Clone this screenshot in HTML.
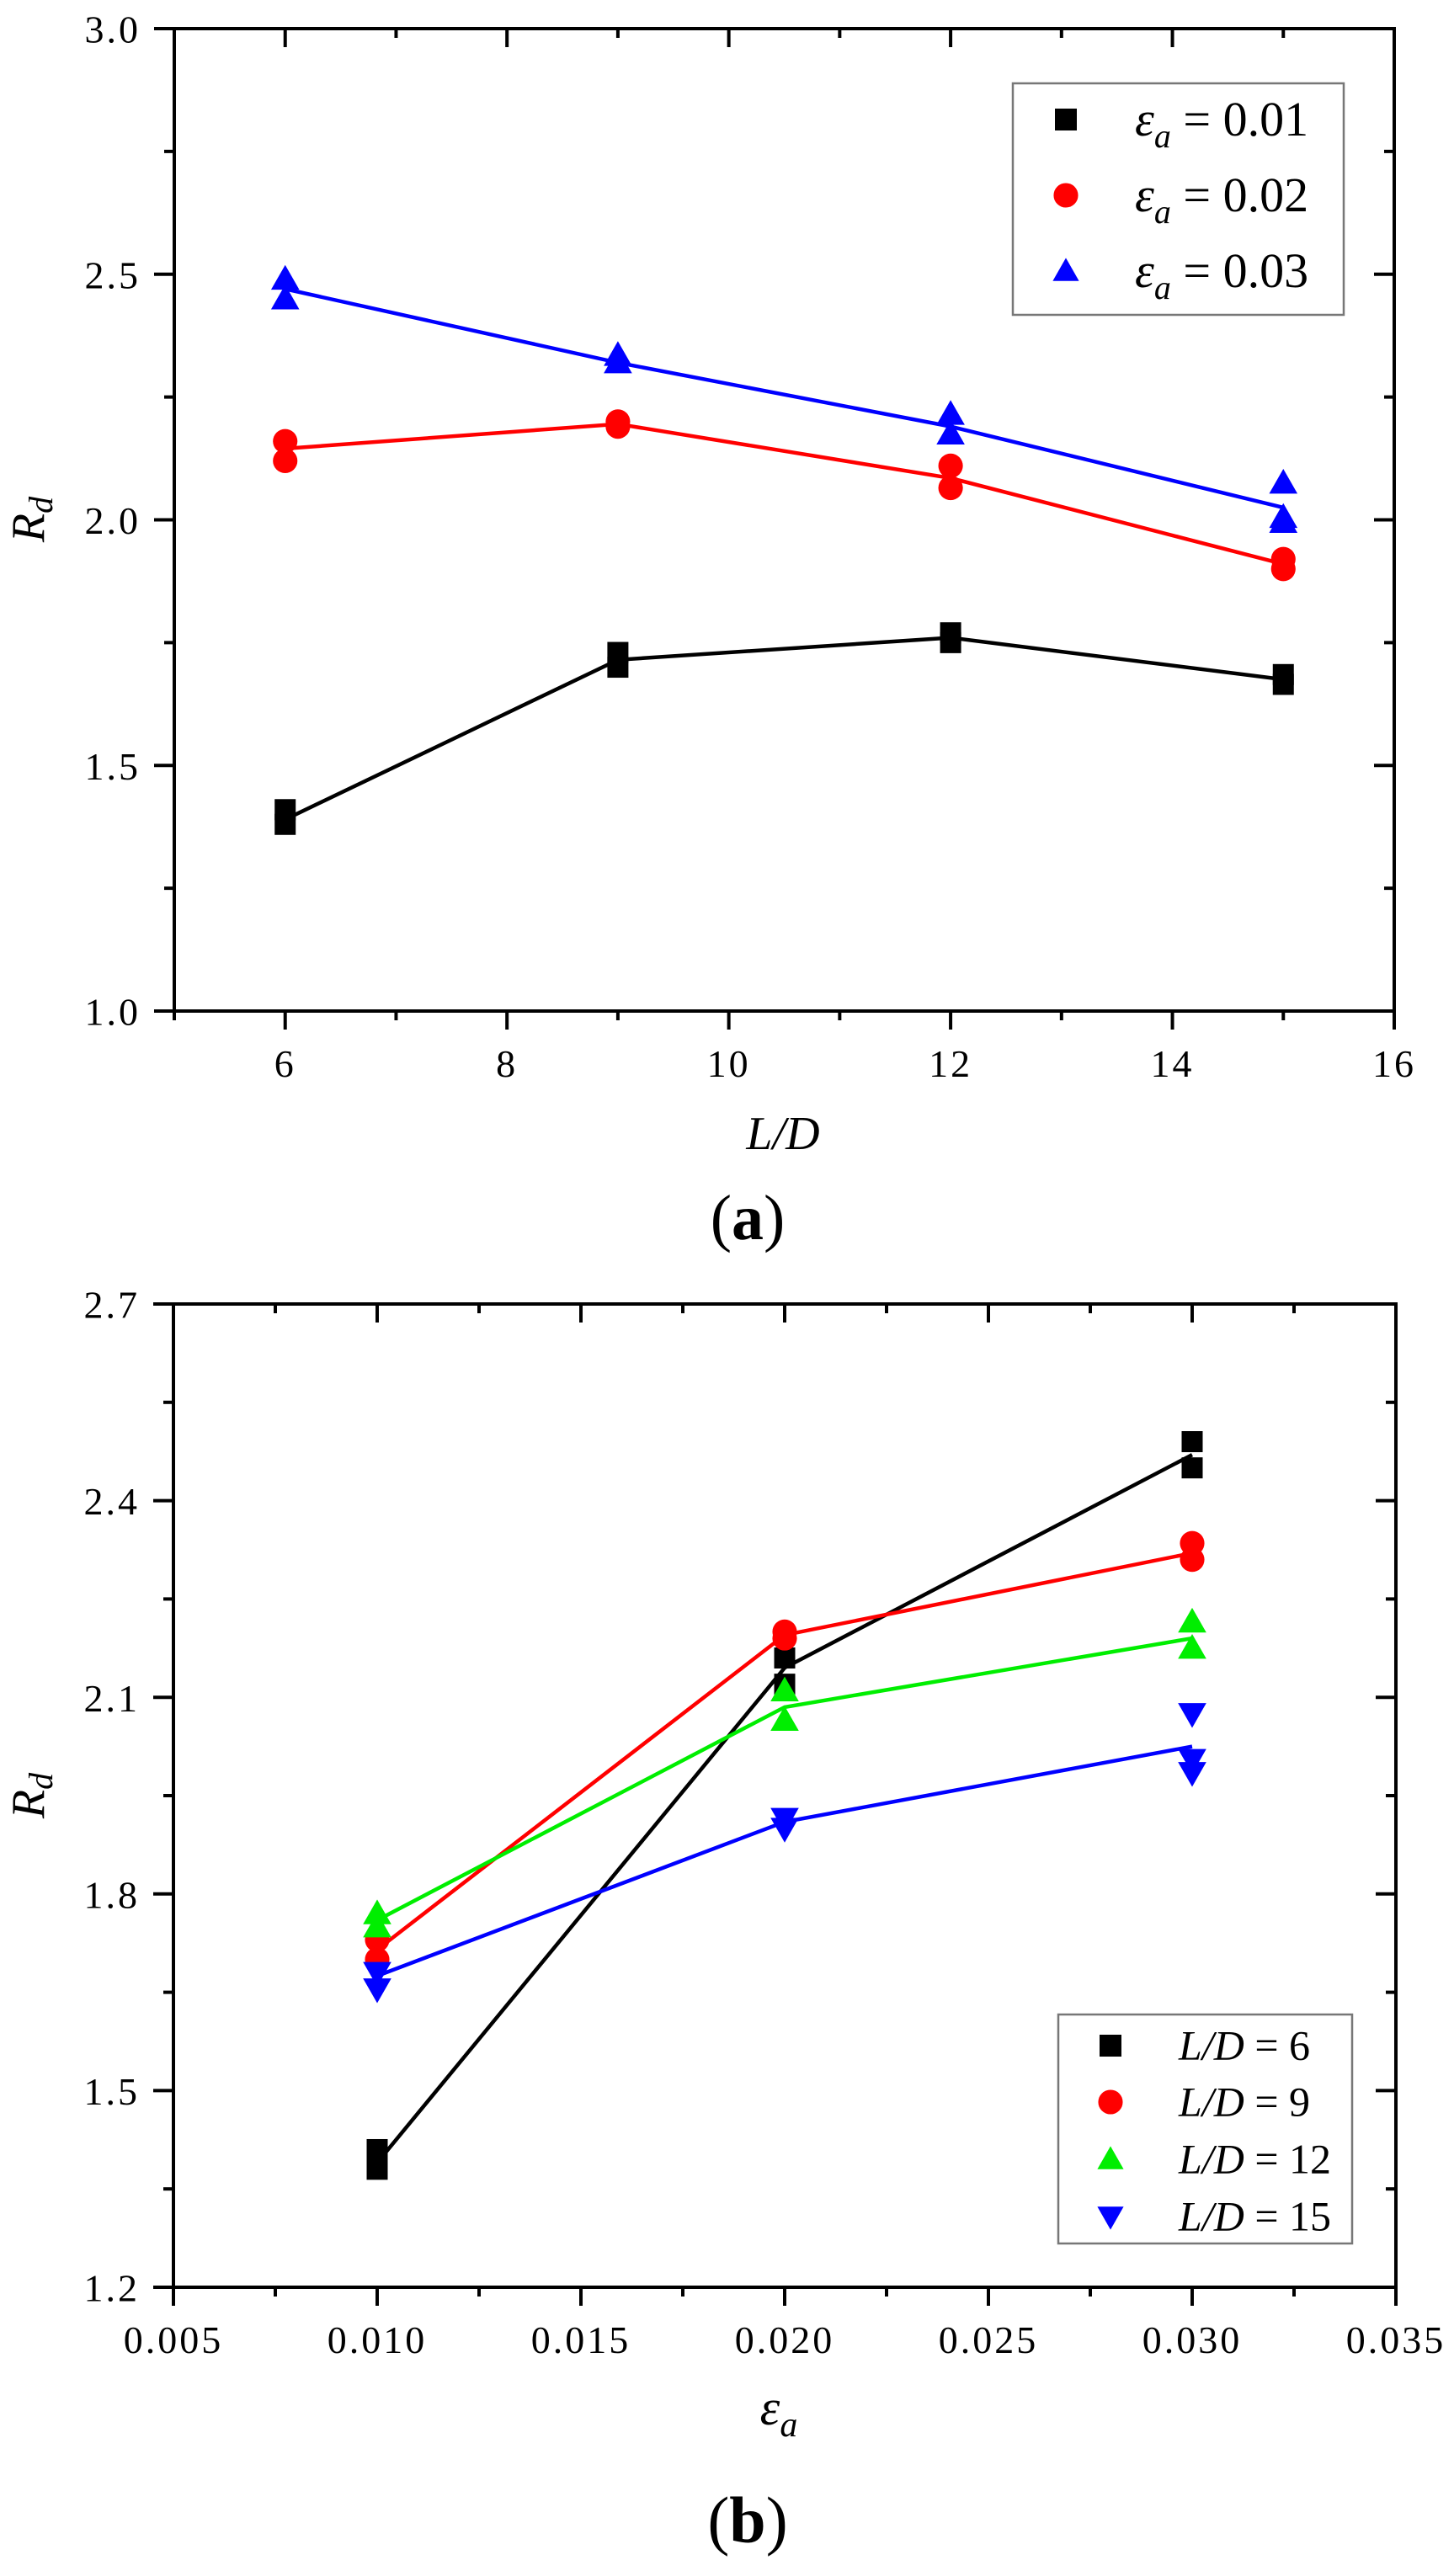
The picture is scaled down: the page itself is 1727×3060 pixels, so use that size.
<!DOCTYPE html>
<html><head><meta charset="utf-8"><style>
html,body{margin:0;padding:0;background:#fff;}
svg{display:block;}
.tick{font-family:"Liberation Serif","Noto Serif CJK SC",serif;fill:#000;letter-spacing:3px;}
.it{font-family:"Liberation Serif",serif;font-style:italic;fill:#000;}
.rm{font-family:"Liberation Serif",serif;fill:#000;}
</style></head><body>
<svg id="fig" width="1727" height="3060" viewBox="0 0 1727 3060" xmlns="http://www.w3.org/2000/svg">
<rect width="1727" height="3060" fill="#fff"/>
<g id="chartA"></g>
<g id="chartB"></g>
<text x="888" y="1472" text-anchor="middle" class="rm" font-size="76">(<tspan font-weight="bold">a</tspan>)</text>
<text x="888" y="3020" text-anchor="middle" class="rm" font-size="78">(<tspan font-weight="bold">b</tspan>)</text>
</svg>
<script>
// ---- Chart A data ----
const aX = [6, 9, 12, 15];
const aLine001 = [1.39, 1.715, 1.76, 1.675];
const aLine002 = [2.145, 2.195, 2.085, 1.91];
const aLine003 = [2.47, 2.32, 2.19, 2.025];
const aPts001 = [[1.38,1.41],[1.70,1.73],[1.75,1.77],[1.665,1.685]];
const aPts002 = [[2.12,2.16],[2.19,2.20],[2.065,2.11],[1.90,1.92]];
const aPts003 = [[2.45,2.49],[2.32,2.335],[2.175,2.215],[1.995,2.005,2.075]];
const aXTicks = [6, 8, 10, 12, 14, 16];
const aYTicks = [1.0, 1.5, 2.0, 2.5, 3.0];
const aYTickLabels = ["1.0","1.5","2.0","2.5","3.0"];
// ---- Chart B data ----
const bX = [0.01, 0.02, 0.03];
const bLine6 = [1.39, 2.145, 2.47];
const bLine9 = [1.715, 2.195, 2.32];
const bLine12 = [1.76, 2.085, 2.19];
const bLine15 = [1.675, 1.91, 2.025];
const bPts6 = [[1.38,1.41],[2.12,2.16],[2.45,2.49]];
const bPts9 = [[1.70,1.73],[2.19,2.20],[2.31,2.335]];
const bPts12 = [[1.75,1.77],[2.065,2.11],[2.175,2.215]];
const bPts15 = [[1.655,1.68],[1.90,1.915],[1.985,2.005,2.075]];
const bXTicks = [0.005,0.010,0.015,0.020,0.025,0.030,0.035];
const bXTickLabels = ["0.005","0.010","0.015","0.020","0.025","0.030","0.035"];
const bYTicks = [1.2,1.5,1.8,2.1,2.4,2.7];
const bYTickLabels = ["1.2","1.5","1.8","2.1","2.4","2.7"];

const NS = "http://www.w3.org/2000/svg";
function mk(parent, tag, attrs){
  const e = document.createElementNS(NS, tag);
  for (const k in attrs) e.setAttribute(k, attrs[k]);
  parent.appendChild(e); return e;
}
function marker(g, type, cx, cy, color, s){
  let e;
  if (type === 'square') e = mk(g,'rect',{x:cx-s/2,y:cy-s/2,width:s,height:s,fill:color});
  else if (type === 'circle') e = mk(g,'circle',{cx:cx,cy:cy,r:s*0.56,fill:color});
  else if (type === 'up') e = mk(g,'polygon',{points:`${cx-s*0.6},${cy+s*0.45} ${cx+s*0.6},${cy+s*0.45} ${cx},${cy-s*0.6}`,fill:color});
  else e = mk(g,'polygon',{points:`${cx-s*0.6},${cy-s*0.45} ${cx+s*0.6},${cy-s*0.45} ${cx},${cy+s*0.6}`,fill:color});
  return e;
}
function drawAxes(g, L, R, T, B, xs, ys, xMaj, xMin, yMaj, yMin, xLab, yLab, fs){
  const ax = mk(g,'g',{});
  
  
  const frame = mk(ax,'rect',{x:L,y:T,width:R-L,height:B-T,fill:'none',stroke:'#000','stroke-width':4});
  
  
  xMaj.forEach((v,i)=>{
    const x = xs(v);
    mk(ax,'line',{x1:x,y1:B,x2:x,y2:B+22,stroke:'#000','stroke-width':4});
    mk(ax,'line',{x1:x,y1:T,x2:x,y2:T+22,stroke:'#000','stroke-width':4});
    const t = mk(ax,'text',{x:x,y:B+78,'text-anchor':'middle','font-size':fs,class:'tick'});
    t.textContent = xLab[i];
    
    
  });
  xMin.forEach(v=>{
    const x = xs(v);
    mk(ax,'line',{x1:x,y1:B,x2:x,y2:B+11,stroke:'#000','stroke-width':4});
    mk(ax,'line',{x1:x,y1:T,x2:x,y2:T+11,stroke:'#000','stroke-width':4});
  });
  yMaj.forEach((v,i)=>{
    const y = ys(v);
    mk(ax,'line',{x1:L-24,y1:y,x2:L,y2:y,stroke:'#000','stroke-width':4});
    mk(ax,'line',{x1:R-24,y1:y,x2:R,y2:y,stroke:'#000','stroke-width':4});
    const t = mk(ax,'text',{x:L-40,y:y+fs*0.36,'text-anchor':'end','font-size':fs,class:'tick'});
    t.textContent = yLab[i];
    
    
  });
  yMin.forEach(v=>{
    const y = ys(v);
    mk(ax,'line',{x1:L-12,y1:y,x2:L,y2:y,stroke:'#000','stroke-width':4});
    mk(ax,'line',{x1:R-12,y1:y,x2:R,y2:y,stroke:'#000','stroke-width':4});
  });
}
function drawSeries(g, name, xv, line, pts, xs, ys, color, type, s){
  const sg = mk(g,'g',{});
  
  
  const p = mk(sg,'polyline',{points:xv.map((x,i)=>xs(x)+','+ys(line[i])).join(' '),fill:'none',stroke:color,'stroke-width':4.5});
  
  
  pts.forEach((arr,i)=>arr.forEach(v=>{
    const m = marker(sg,type,xs(xv[i]),ys(v),color,s);
    
    
  }));
}
function legend(g, x, y, w, h, rows, fs, mx, tx, s){
  const lg = mk(g,'g',{});
  
  
  mk(lg,'rect',{x:x,y:y,width:w,height:h,fill:'#fff',stroke:'#777','stroke-width':2.5});
  rows.forEach(r=>{
    const e = mk(lg,'g',{});
    
    
    marker(e,r.type,mx,r.y,r.color,s);
    const t = mk(e,'text',{x:tx,y:r.y+fs*0.33,'font-size':fs,class:'rm'});
    t.innerHTML = r.html;
  });
}

// ---- Chart A ----
(function(){
  const g = document.getElementById('chartA');
  const L=207,R=1656,T=34,B=1201;
  const xs = v => L + (v-5)/(16-5)*(R-L);
  const ys = v => B - (v-1)/(3-1)*(B-T);
  drawAxes(g,L,R,T,B,xs,ys,aXTicks,[5,7,9,11,13,15],aYTicks,[1.25,1.75,2.25,2.75],aXTicks.map(String),aYTickLabels,46);
  drawSeries(g,'series-ea-0.01',aX,aLine001,aPts001,xs,ys,'#000','square',25);
  drawSeries(g,'series-ea-0.02',aX,aLine002,aPts002,xs,ys,'#ff0000','circle',26);
  drawSeries(g,'series-ea-0.03',aX,aLine003,aPts003,xs,ys,'#0000ff','up',28);
  legend(g,1203,99,393,275,[
    {type:'square',color:'#000',y:142,html:'<tspan font-style="italic">ε</tspan><tspan font-style="italic" font-size="40" dy="14">a</tspan><tspan dy="-14"> = 0.01</tspan>'},
    {type:'circle',color:'#ff0000',y:232,html:'<tspan font-style="italic">ε</tspan><tspan font-style="italic" font-size="40" dy="14">a</tspan><tspan dy="-14"> = 0.02</tspan>'},
    {type:'up',color:'#0000ff',y:322,html:'<tspan font-style="italic">ε</tspan><tspan font-style="italic" font-size="40" dy="14">a</tspan><tspan dy="-14"> = 0.03</tspan>'}
  ],58,1266,1348,26);
  const xl = mk(g,'text',{x:930,y:1365,'text-anchor':'middle','font-size':56,class:'it'});
  xl.textContent='L/D';
  
  
  const yl = mk(g,'text',{transform:'translate(52,617) rotate(-90)','text-anchor':'middle','font-size':56,class:'it'});
  yl.innerHTML='R<tspan font-size="40" dy="10">d</tspan>';
  
  
})();

// ---- Chart B ----
(function(){
  const g = document.getElementById('chartB');
  const L=206,R=1658,T=1549,B=2717;
  const xs = v => L + (v-0.005)/(0.035-0.005)*(R-L);
  const ys = v => B - (v-1.2)/(2.7-1.2)*(B-T);
  drawAxes(g,L,R,T,B,xs,ys,bXTicks,[0.0075,0.0125,0.0175,0.0225,0.0275,0.0325],bYTicks,[1.35,1.65,1.95,2.25,2.55],bXTickLabels,bYTickLabels,46);
  drawSeries(g,'series-ld-6',bX,bLine6,bPts6,xs,ys,'#000','square',25);
  drawSeries(g,'series-ld-9',bX,bLine9,bPts9,xs,ys,'#ff0000','circle',26);
  drawSeries(g,'series-ld-12',bX,bLine12,bPts12,xs,ys,'#00ee00','up',28);
  drawSeries(g,'series-ld-15',bX,bLine15,bPts15,xs,ys,'#0000ff','down',28);
  legend(g,1257,2393,349,272,[
    {type:'square',color:'#000',y:2430,html:'<tspan font-style="italic">L/D</tspan> = 6'},
    {type:'circle',color:'#ff0000',y:2497,html:'<tspan font-style="italic">L/D</tspan> = 9'},
    {type:'up',color:'#00ee00',y:2565,html:'<tspan font-style="italic">L/D</tspan> = 12'},
    {type:'down',color:'#0000ff',y:2633,html:'<tspan font-style="italic">L/D</tspan> = 15'}
  ],50,1319,1400,26);
  const xl = mk(g,'text',{x:925,y:2880,'text-anchor':'middle','font-size':60,class:'it'});
  xl.innerHTML='ε<tspan font-size="42" dy="14">a</tspan>';
  
  
  const yl = mk(g,'text',{transform:'translate(52,2133) rotate(-90)','text-anchor':'middle','font-size':56,class:'it'});
  yl.innerHTML='R<tspan font-size="40" dy="10">d</tspan>';
  
  
})();
</script>
</body></html>
